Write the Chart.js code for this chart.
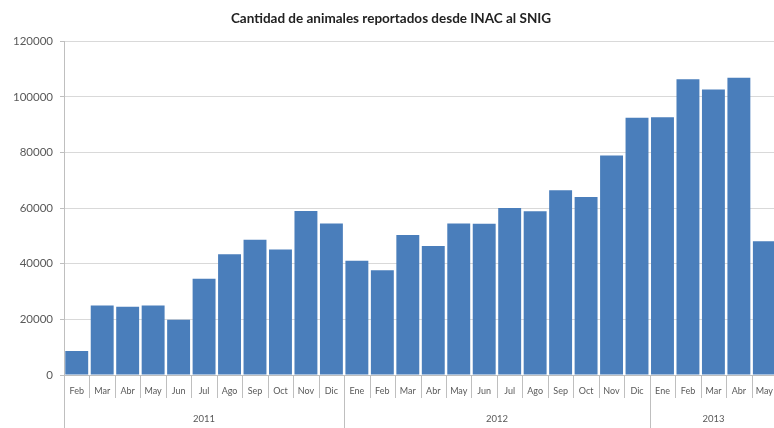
<!DOCTYPE html>
<html>
<head>
<meta charset="utf-8">
<script src="https://cdn.jsdelivr.net/npm/chart.js@4/dist/chart.umd.min.js"></script>
<style>
  html, body { margin: 0; padding: 0; background: #fff; overflow: hidden; }
  #wrap { width: 784px; height: 428px; position: relative; }
</style>
</head>
<body>
<div id="wrap"><canvas id="c"></canvas></div>
<script>
const titleText = 'Cantidad de animales reportados desde INAC al SNIG';
const months = ['Feb','Mar','Abr','May','Jun','Jul','Ago','Sep','Oct','Nov','Dic',
                'Ene','Feb','Mar','Abr','May','Jun','Jul','Ago','Sep','Oct','Nov','Dic',
                'Ene','Feb','Mar','Abr','May'];
const values = [8600, 25000, 24500, 25000, 19900, 34600, 43400, 48600, 45100, 59000, 54500,
                41100, 37700, 50300, 46400, 54500, 54400, 60000, 58900, 66400, 64000, 78900, 92500,
                92700, 106300, 102600, 106900, 48100];
const years = ['2011', '2012', '2013'];
const yearCounts = [11, 12, 5];
const yTicks = [0, 20000, 40000, 60000, 80000, 100000, 120000];

const gridGray = '#d9d9d9';
const axisGray = '#bfbfbf';
const labelColor = '#595959';
const fontFam = 'Lato, "Liberation Sans", sans-serif';

// Multi-level category axis: separators between months and the year row,
// positioned with the x scale of the chart.
const multiLevelAxis = {
  id: 'multiLevelAxis',
  afterDraw(chart) {
    const xs = chart.scales.x;
    const ctx = chart.ctx;
    const top = xs.top;
    const monthRowBottom = top + 23;
    const yearRowBottom = chart.height;
    const yearStarts = new Set();
    let acc = 0;
    yearCounts.forEach(n => { yearStarts.add(acc); acc += n; });
    yearStarts.add(acc);
    ctx.save();
    ctx.strokeStyle = axisGray;
    ctx.lineWidth = 1;
    for (let i = 0; i <= months.length; i++) {
      const x = Math.round(xs.getPixelForValue(i - 0.5)) + 0.5;
      ctx.beginPath();
      ctx.moveTo(x, top);
      ctx.lineTo(x, yearStarts.has(i) ? yearRowBottom : monthRowBottom);
      ctx.stroke();
    }
    ctx.fillStyle = labelColor;
    ctx.font = '9.5px ' + fontFam;
    ctx.textAlign = 'center';
    ctx.textBaseline = 'middle';
    acc = 0;
    yearCounts.forEach((n, k) => {
      const cx = xs.getPixelForValue(acc - 0.5 + n / 2);
      ctx.fillText(years[k], cx, top + 44);
      acc += n;
    });
    ctx.restore();
  }
};

new Chart(document.getElementById('c'), {
  type: 'bar',
  data: {
    labels: months,
    datasets: [{
      data: values,
      backgroundColor: '#4a7ebb',
      borderWidth: 0,
      barPercentage: 0.9,
      categoryPercentage: 1.0
    }]
  },
  options: {
    responsive: true,
    maintainAspectRatio: false,
    animation: false,
    layout: { padding: { left: 0, right: 2, top: 0, bottom: 22 } },
    plugins: {
      legend: { display: false },
      tooltip: { enabled: false },
      title: {
        display: true,
        text: titleText,
        color: '#222',
        font: { family: fontFam, size: 13.5, weight: 'bold' },
        padding: { top: 11, bottom: 14 }
      }
    },
    scales: {
      y: {
        min: 0, max: 120000,
        afterBuildTicks: s => { s.ticks = yTicks.map(v => ({ value: v })); },
        afterFit: s => { s.width = 64; },
        ticks: {
          color: labelColor,
          font: { family: fontFam, size: 11.5 },
          padding: 7,
          callback: v => String(v)
        },
        grid: { color: gridGray, tickLength: 4, tickColor: axisGray },
        border: { display: true, color: axisGray }
      },
      x: {
        position: 'bottom',
        offset: true,
        afterFit: s => { s.height = 31; },
        ticks: {
          color: labelColor,
          font: { family: fontFam, size: 9 },
          padding: 11,
          autoSkip: false,
          maxRotation: 0
        },
        grid: {
          offset: true,
          drawOnChartArea: false,
          drawTicks: false,
          display: false
        },
        border: { display: true, color: axisGray }
      }
    }
  },
  plugins: [multiLevelAxis]
});
</script>
</body>
</html>
